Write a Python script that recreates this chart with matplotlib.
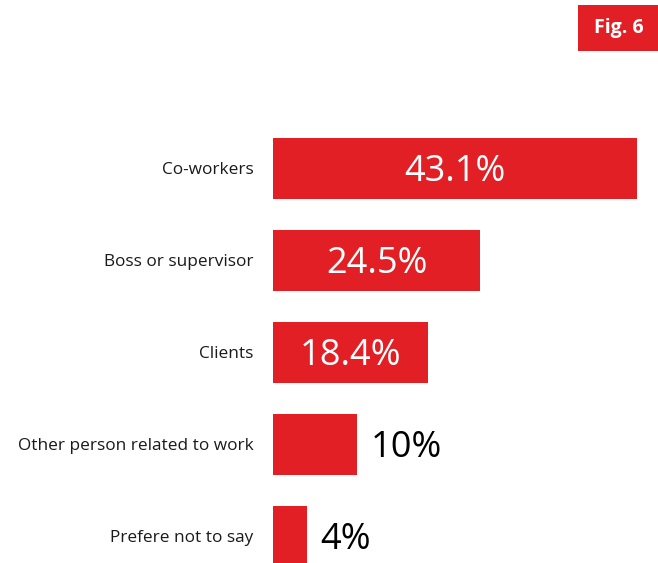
import matplotlib
matplotlib.use("Agg")
import matplotlib.pyplot as plt
from matplotlib.patches import Rectangle

categories = ["Co-workers", "Boss or supervisor", "Clients",
              "Other person related to work", "Prefere not to say"]
values = [43.1, 24.5, 18.4, 10, 4]
value_labels = ["43.1%", "24.5%", "18.4%", "10%", "4%"]
inside = [True, True, True, False, False]

RED = "#e31f26"
W, H, DPI = 658, 563, 100
plt.rcParams["font.family"] = ["Open Sans", "DejaVu Sans"]

fig = plt.figure(figsize=(W / DPI, H / DPI), dpi=DPI)
fig.patch.set_facecolor("white")

# axes: left edge at bar origin, spans full figure height
ax = fig.add_axes([273 / W, 0, 380 / W, 1])
ax.set_xlim(0, 45)
spacing = 92.0
first_center = 168.5
ax.set_ylim((H - first_center) / spacing, -first_center / spacing)

ypos = list(range(len(categories)))
ax.barh(ypos, values, height=61 / spacing, color=RED, linewidth=0)

for y, v, lab, ins, cat in zip(ypos, values, value_labels, inside, categories):
    if ins:
        ax.annotate(lab, (v / 2, y), xytext=(0, -2.5),
                    textcoords="offset points", ha="center", va="center",
                    color="white", fontsize=26)
    else:
        ax.annotate(lab, (v, y), xytext=(9.5, -2.5),
                    textcoords="offset points", ha="left", va="center",
                    color="black", fontsize=26)
    ax.annotate(cat, (0, y), xytext=(-14, -1.2), textcoords="offset points",
                ha="right", va="center", color="#1a1a1a", fontsize=12.4,
                annotation_clip=False)

ax.axis("off")

# figure badge in the top-right corner
fig.patches.append(Rectangle((578 / W, 1 - 51 / H), 80 / W, 46 / H,
                             transform=fig.transFigure, facecolor=RED,
                             edgecolor="none"))
fig.text(619 / W, 1 - 28.5 / H, "Fig. 6", ha="center", va="center",
         color="white", fontsize=14, fontweight="bold")

fig.savefig("out.png", dpi=DPI)
